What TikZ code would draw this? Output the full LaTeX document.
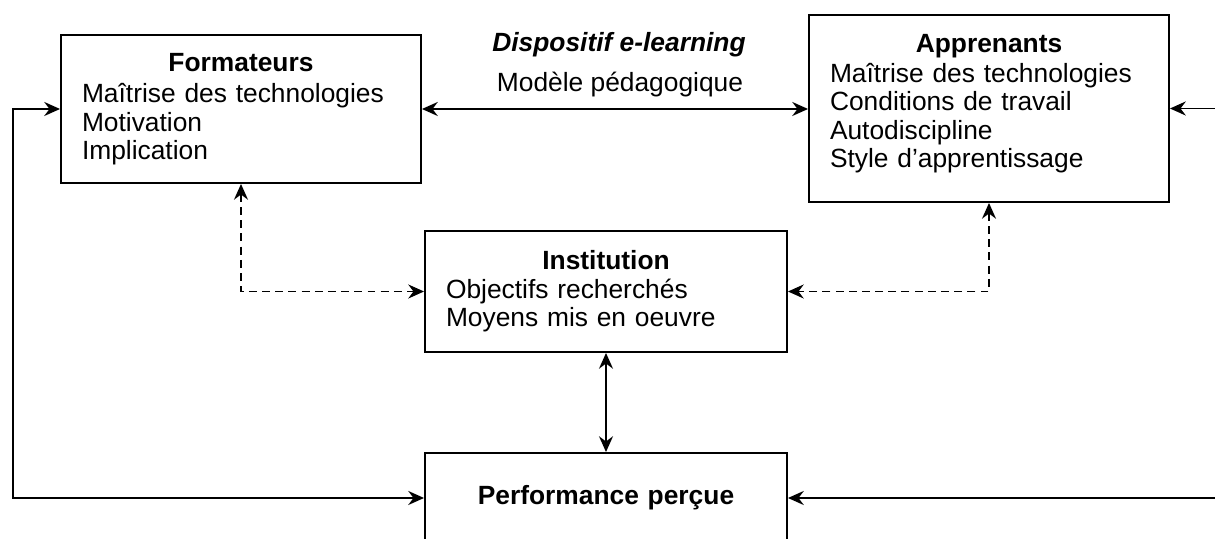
\documentclass[tikz,border=0pt]{standalone}
\usepackage{fontspec}
\setmainfont{Liberation Sans}
\usetikzlibrary{arrows.meta,positioning}

\begin{document}
\begin{tikzpicture}[
    >={Stealth[length=9pt,width=8pt,inset=3pt]},
    box/.style={draw, line width=1.1pt, text width=6.36cm, inner xsep=0.42cm, inner ysep=0pt, align=left, font=\fontsize{15}{16.2}\selectfont},
    link/.style={<->, line width=1.1pt},
    thinlink/.style={<->, line width=0.85pt},
    dashlink/.style={<->, line width=0.85pt, dash pattern=on 4.5pt off 3pt},
]
    \useasboundingbox (0,0) rectangle (24.3,-10.78);
    % Actors
    \node[box, minimum height=2.96cm] (form) at (4.82,-2.18)
        {{\centering\textbf{Formateurs}\par}\vspace{0.06cm}Maîtrise des technologies\\Motivation\\Implication};
    \node[box, minimum height=3.74cm] (appr) at (19.78,-2.17)
        {{\centering\textbf{Apprenants}\par}\vspace{0.03cm}Maîtrise des technologies\\Conditions de travail\\Autodiscipline\\Style d’apprentissage\par\vspace{0.2cm}\hrule height 0pt};
    \node[box, text width=6.4cm, minimum height=2.42cm] (inst) at (12.12,-5.83)
        {{\centering\textbf{Institution}\par}Objectifs recherchés\\Moyens mis en oeuvre};
    \node[box, text width=6.4cm, align=center, minimum height=1.8cm] (perf) at (12.12,-9.96)
        {\textbf{Performance perçue}};
    % Labels over the top link
    \node[font=\fontsize{15}{16.2}\selectfont\bfseries\itshape] (disp) at (12.38,-0.9) {Dispositif e-learning};
    \node[font=\fontsize{15}{16.2}\selectfont] (model) at (12.4,-1.7) {Modèle pédagogique};
    % Rails for the feedback loops
    \coordinate (lrail) at (0.26,0);
    \coordinate (rrail) at (24.45,0);
    % Links
    \draw[link] (form.east) -- (form.east -| appr.west);
    \draw[link] (form.west) -| (lrail |- perf.west) -- (perf.west);
    \draw[link] (appr.east) -| (rrail |- perf.east) -- (perf.east);
    \draw[thinlink] (inst.south) -- (perf.north);
    \draw[dashlink] (form.south) |- (inst.west);
    \draw[dashlink] (appr.south) |- (inst.east);
\end{tikzpicture}
\end{document}
